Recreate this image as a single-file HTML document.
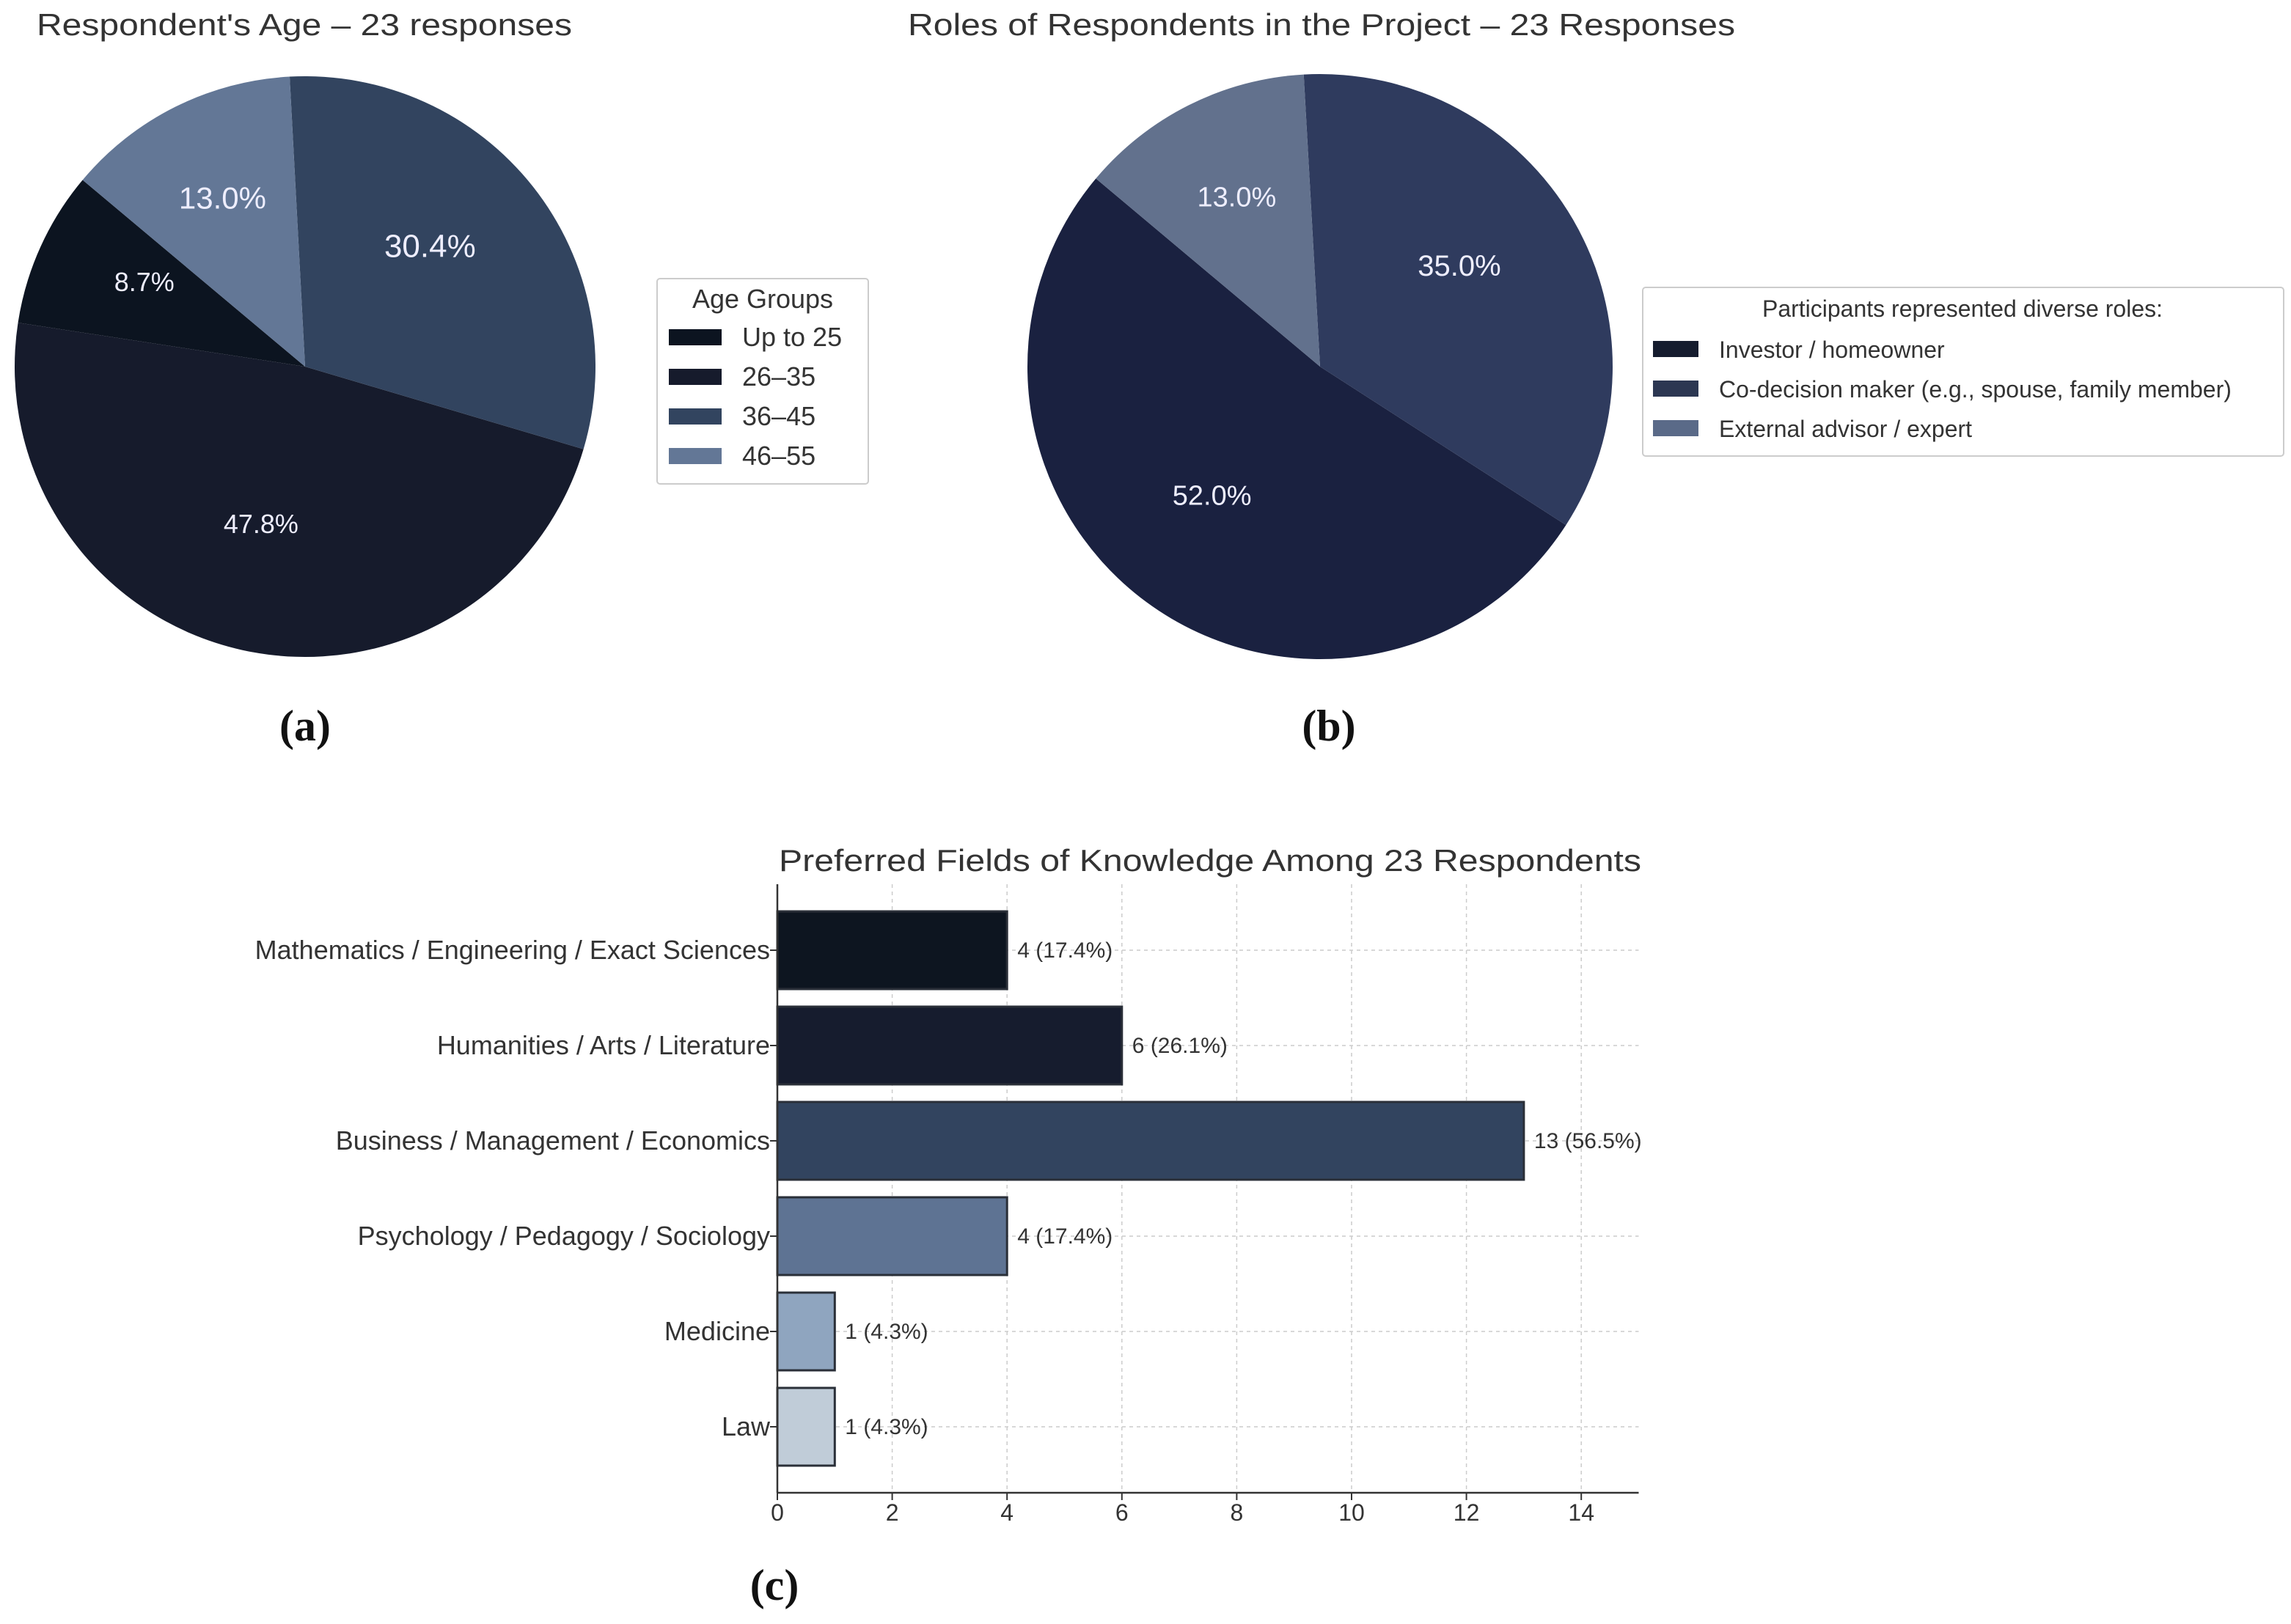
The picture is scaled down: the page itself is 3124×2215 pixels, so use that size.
<!DOCTYPE html>
<html><head><meta charset="utf-8"><style>
html,body{margin:0;padding:0;background:#fff;}
svg{display:block;font-family:"Liberation Sans","DejaVu Sans",sans-serif;}
</style></head><body>
<svg id="fig" width="3124" height="2215" viewBox="0 0 3124 2215" xmlns="http://www.w3.org/2000/svg">
<rect width="3124" height="2215" fill="#fff"/>
<text x="50" y="48" font-size="42" fill="#333" textLength="730" lengthAdjust="spacingAndGlyphs">Respondent's Age – 23 responses</text>
<text x="1238" y="48" font-size="42" fill="#333" textLength="1128" lengthAdjust="spacingAndGlyphs">Roles of Respondents in the Project – 23 Responses</text>
<text x="1062" y="1188" font-size="42" fill="#333" textLength="1176" lengthAdjust="spacingAndGlyphs">Preferred Fields of Knowledge Among 23 Respondents</text>
<text x="416" y="1010" font-size="60" font-weight="bold" text-anchor="middle" font-family="Liberation Serif,serif" fill="#111">(a)</text>
<text x="1812" y="1010" font-size="60" font-weight="bold" text-anchor="middle" font-family="Liberation Serif,serif" fill="#111">(b)</text>
<text x="1056" y="2182" font-size="60" font-weight="bold" text-anchor="middle" font-family="Liberation Serif,serif" fill="#111">(c)</text>
<g id="pieA"></g>
<g id="pieB"></g>
<g id="legA"></g>
<g id="legB"></g>
<g id="bars"></g>
</svg>
<script>
const ageLabels = ["Up to 25","26–35","36–45","46–55"];
const ageValues = [2, 11, 7, 3];
const ageColors = ["#0c1420","#161b2c","#32445f","#637796"];
const roleLabels = ["Investor / homeowner","Co-decision maker (e.g., spouse, family member)","External advisor / expert"];
const roleValues = [52, 35, 13];
const roleColors = ["#1a2140","#2f3b5e","#62718d"];
const roleSwatch = ["#151c2e","#2c3752","#5a6a88"];
const fieldLabels = ["Mathematics / Engineering / Exact Sciences","Humanities / Arts / Literature","Business / Management / Economics","Psychology / Pedagogy / Sociology","Medicine","Law"];
const fieldValues = [4, 6, 13, 4, 1, 1];
const fieldColors = ["#0d1520","#161c2e","#32445f","#5e7393","#8fa5bf","#c0ccd8"];
const xTicks = [0,2,4,6,8,10,12,14];
const NS = "http://www.w3.org/2000/svg";
function mk(tag, attrs, parent){const e=document.createElementNS(NS,tag);for(const k in attrs)e.setAttribute(k,attrs[k]);parent.appendChild(e);return e;}

function pie(g, cx, cy, r, values, colors, fsizes, nm){
  const tot = values.reduce((a,b)=>a+b,0);
  let a0 = 140;
  values.forEach((v,i)=>{
    const sweep = v/tot*360, a1 = a0+sweep;
    const p0=[cx+r*Math.cos(a0*Math.PI/180), cy-r*Math.sin(a0*Math.PI/180)];
    const p1=[cx+r*Math.cos(a1*Math.PI/180), cy-r*Math.sin(a1*Math.PI/180)];
    const path = mk("path",{d:`M${cx},${cy} L${p0[0]},${p0[1]} A${r},${r} 0 ${sweep>180?1:0} 0 ${p1[0]},${p1[1]} Z`, fill:colors[i]}, g);
    
    
    const am = (a0+a1)/2*Math.PI/180;
    const t = mk("text",{x:cx+0.58*r*Math.cos(am)-10, y:cy-0.6*r*Math.sin(am)+fsizes[i]*0.36-18, "text-anchor":"middle", "font-size":fsizes[i], fill:"#eef"}, g);
    t.textContent = (v/tot*100).toFixed(1)+"%";
    
    
    a0 = a1;
  });
}
pie(document.getElementById("pieA"), 416, 500, 396, ageValues, ageColors, [36,36,44,42], "age");
pie(document.getElementById("pieB"), 1800, 500, 399, roleValues, roleColors, [38,40,38], "role");

function legend(g, x, y, w, h, title, labels, colors, fs, titleX, sw, first){
  mk("rect",{x:x,y:y,width:w,height:h,fill:"#fff",stroke:"#ccc","stroke-width":2,rx:4},g);
  const tt = mk("text",{x:titleX,y:y+40,"font-size":fs,"text-anchor":"middle",fill:"#333"},g);
  tt.textContent = title;
  labels.forEach((l,i)=>{
    const yy = y+first+i*54;
    const r = mk("rect",{x:x+sw[0],y:yy-11,width:sw[1],height:22,fill:colors[i]},g);
    
    
    const t = mk("text",{x:x+sw[0]+sw[1]+28,y:yy+12,"font-size":fs,fill:"#333"},g);
    t.textContent = l;
    
    
  });
}
legend(document.getElementById("legA"), 896, 380, 288, 280, "Age Groups", ageLabels, ageColors, 36, 1040, [16,72], 80);
legend(document.getElementById("legB"), 2240, 392, 874, 230, "Participants represented diverse roles:", roleLabels, roleSwatch, 32, 2676, [14,62], 84);

const bg = document.getElementById("bars");
const x0 = 1060, unit = 78.3, plotTop = 1206, plotBottom = 2036, band = 130, bh = 106, firstC = 1296;
const xs = v => x0 + v*unit;
const yc = i => firstC + i*band;
xTicks.forEach(t=>{
  mk("line",{x1:xs(t),x2:xs(t),y1:plotTop,y2:plotBottom,stroke:"#ccc","stroke-width":1.5,"stroke-dasharray":"5,5"},bg);
  mk("line",{x1:xs(t),x2:xs(t),y1:plotBottom,y2:plotBottom+10,stroke:"#333","stroke-width":2},bg);
  const tl = mk("text",{x:xs(t),y:plotBottom+38,"font-size":32,"text-anchor":"middle",fill:"#333"},bg);
  tl.textContent = t;
  
  
});
fieldValues.forEach((v,i)=>{
  mk("line",{x1:x0,x2:xs(15),y1:yc(i),y2:yc(i),stroke:"#ccc","stroke-width":1.5,"stroke-dasharray":"5,5"},bg);
});
fieldValues.forEach((v,i)=>{
  const b = mk("rect",{x:x0,y:yc(i)-bh/2,width:xs(v)-x0,height:bh,fill:fieldColors[i],stroke:"#2a2f38","stroke-width":3},bg);
  
  
  const vl = mk("text",{x:xs(v)+14,y:yc(i)+10,"font-size":30,fill:"#333"},bg);
  vl.textContent = v+" ("+(v/23*100).toFixed(1)+"%)";
  
  
  mk("line",{x1:x0-10,x2:x0,y1:yc(i),y2:yc(i),stroke:"#333","stroke-width":2},bg);
  const yl = mk("text",{x:x0-10,y:yc(i)+12,"font-size":36,"text-anchor":"end",fill:"#333"},bg);
  yl.textContent = fieldLabels[i];
  
  
});
mk("line",{x1:x0,x2:x0,y1:plotTop,y2:plotBottom,stroke:"#333","stroke-width":2.5},bg);
mk("line",{x1:x0,x2:xs(15),y1:plotBottom,y2:plotBottom,stroke:"#333","stroke-width":2.5},bg);
</script>
</body></html>
